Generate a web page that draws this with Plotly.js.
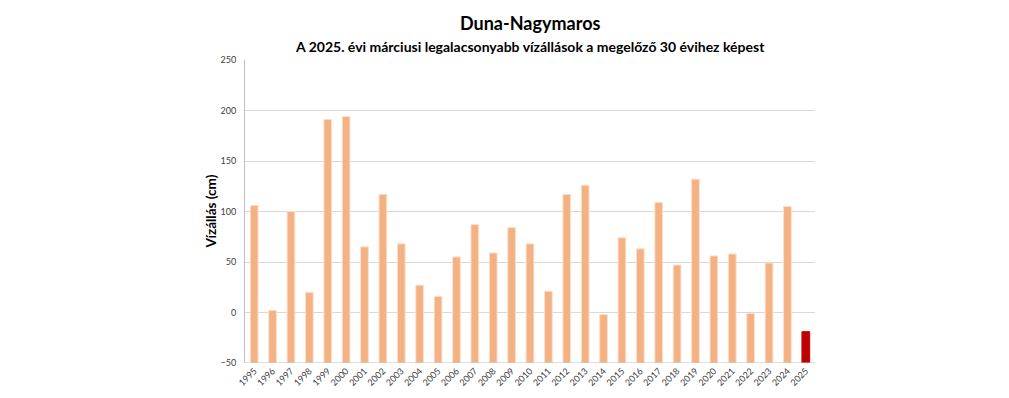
<!DOCTYPE html>
<html><head><meta charset="utf-8">
<script src="https://cdn.plot.ly/plotly-3.0.1.min.js"></script>
<style>body{margin:0;background:#fff}#c{width:1009px;height:398px}</style>
</head><body><div id="c"></div>
<script>
var years = ['1995','1996','1997','1998','1999','2000','2001','2002','2003','2004','2005','2006','2007','2008','2009','2010','2011','2012','2013','2014','2015','2016','2017','2018','2019','2020','2021','2022','2023','2024','2025'];
var levels = [106,2,100,20,191,194,65,117,68,27,16,55,87,59,84,68,21,117,126,-2,74,63,109,47,132,56,58,-1,49,105,-19];
var axisMin = -50, axisMax = 250;
var colors = years.map(function(y){return y==='2025' ? '#C00000' : '#F4B183';});
var lineColors = years.map(function(y){return y==='2025' ? '#C00000' : '#FBE0CC';});
var font = 'Lato, sans-serif';
Plotly.newPlot('c', [{
  type:'bar', x:years, y:levels.map(function(v){return v-axisMin;}), base:axisMin,
  marker:{color:colors, line:{color:lineColors, width:1}},
  hoverinfo:'x+y'
}], {
  width:1009, height:398,
  margin:{l:245, r:194, t:60, b:35},
  paper_bgcolor:'#fff', plot_bgcolor:'#fff',
  bargap:0.58,
  showlegend:false,
  font:{family:font, color:'#404040'},
  xaxis:{type:'category', tickangle:-45, tickfont:{size:9, color:'#404040'},
    showline:false, showgrid:false, ticks:'', zeroline:false},
  yaxis:{range:[axisMin,axisMax], dtick:50, tickfont:{size:9, color:'#404040'},
    showgrid:true, gridcolor:'#D9D9D9', gridwidth:1, zeroline:true, zerolinecolor:'#D9D9D9', zerolinewidth:1,
    showline:true, linecolor:'#BFBFBF', ticks:'', ticklen:0, ticklabelstandoff:6},
  shapes:[{type:'line', xref:'paper', yref:'y', x0:0, x1:1, y0:axisMin, y1:axisMin, line:{color:'#BFBFBF', width:1}}],
  annotations:[
    {text:'<b>Vízállás (cm)</b>', xref:'paper', yref:'paper', x:0, y:0.5, xshift:-35, textangle:-90, showarrow:false, xanchor:'center', yanchor:'middle', font:{size:13.5, color:'#000', family:font}},
    {text:'<b>Duna-Nagymaros</b>', xref:'paper', yref:'paper', x:0.5, y:1, yshift:37, showarrow:false, xanchor:'center', yanchor:'middle', font:{size:18, color:'#000', family:font}},
    {text:'<b>A 2025. évi márciusi legalacsonyabb vízállások a megelőző 30 évihez képest</b>', xref:'paper', yref:'paper', x:0.5, y:1, yshift:14, showarrow:false, xanchor:'center', yanchor:'middle', font:{size:14, color:'#000', family:font}}
  ]
}, {staticPlot:true});
</script></body></html>
